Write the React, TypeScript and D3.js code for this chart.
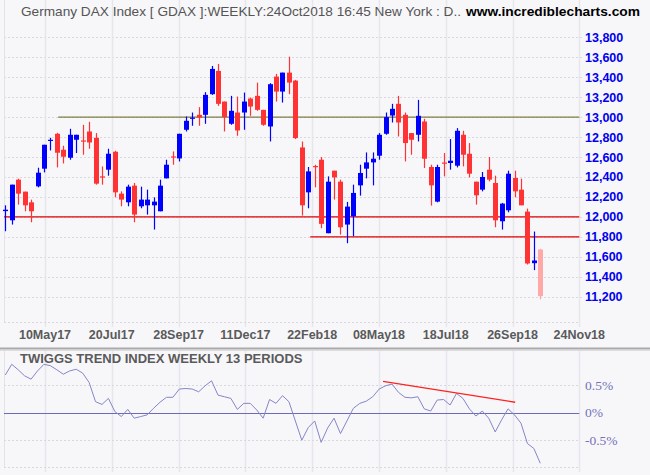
import React from 'react';
import * as d3 from 'd3';

const opens = [12058,11966,12373,12253,12146,12306,12483,12763,12833,12673,12593,12773,12766,12856,12793,12406,12473,12653,12233,12146,12313,12106,12116,12116,12056,12386,12606,12586,12873,12985,13023,13023,13230,13463,13156,12933,13046,13046,13186,13213,13073,12906,13406,13256,13446,13366,12696,12246,12510,12573,11836,12463,12353,11923,12006,12316,12483,12546,12613,12833,13016,13133,13023,12840,12823,12956,12500,12153,12545,12540,12513,12823,12633,12353,12273,12473,12340,11956,12066,12390,12273,12053,11536,11673];
const highs = [12116,12323,12383,12253,12173,12493,12723,12793,12843,12713,12883,12823,12923,12953,12840,12506,12683,12663,12256,12323,12340,12303,12273,12196,12373,12573,12656,12833,13006,13046,13100,13250,13513,13533,13156,13213,13206,13246,13196,13346,13073,13340,13433,13446,13606,13373,12756,12500,12523,12600,12406,12463,12373,12150,12323,12523,12646,12646,12840,13046,13133,13213,13046,12840,13173,12983,12523,12523,12640,12780,12890,12863,12740,12353,12450,12600,12413,12140,12463,12463,12383,12083,11853,11680];
const lows = [11856,11923,12123,12056,11946,12296,12446,12666,12496,12536,12573,12640,12623,12683,12323,12323,12413,12196,12106,12106,11946,12086,12023,11873,12056,12386,12523,12556,12856,12913,12913,12933,13223,13113,12856,12923,12813,12873,13013,13063,12913,12756,13156,13146,13230,12780,12013,12086,12296,11886,11836,12173,11823,11736,11806,12213,12386,12316,12573,12823,12946,12806,12556,12623,12756,12490,12113,12146,12406,12473,12496,12506,12396,12123,12256,12356,11896,11873,12046,12196,12116,11523,11466,11173];
const closes = [12072,12323,12233,12116,12056,12443,12723,12773,12643,12603,12823,12823,12756,12746,12333,12396,12633,12246,12173,12303,12023,12173,12173,12153,12313,12523,12596,12833,12963,12995,12996,13223,13483,13133,13000,13063,12866,13156,13106,13073,12923,13330,13256,13446,13346,12790,12116,12456,12500,11930,12353,12396,11896,12103,12240,12440,12546,12583,12823,13000,13083,12946,12740,12773,13013,12583,12316,12500,12535,12563,12863,12623,12433,12216,12400,12373,11966,12133,12433,12256,12116,11533,11563,11206];
const twiggs = [0.685,0.88,0.78,0.67,0.61,0.76,0.88,0.855,0.78,0.70,0.76,0.79,0.72,0.55,0.20,0.15,0.26,0.02,-0.07,0.06,-0.10,-0.07,-0.04,0.08,0.19,0.28,0.28,0.43,0.44,0.43,0.38,0.49,0.58,0.32,0.29,0.26,0.06,0.17,0.17,0.05,-0.10,0.24,0.17,0.31,0.20,-0.15,-0.50,-0.27,-0.15,-0.54,-0.28,-0.10,-0.38,-0.15,0.08,0.17,0.21,0.29,0.43,0.49,0.52,0.37,0.28,0.27,0.29,0.07,0.03,0.23,0.24,0.14,0.35,0.26,0.07,-0.06,0.03,-0.10,-0.35,-0.13,0.07,-0.04,-0.19,-0.56,-0.65,-0.92];
const priceTicks = [11200,11400,11600,11800,12000,12200,12400,12600,12800,13000,13200,13400,13600,13800];
const dateLabels = ['10May17','20Jul17','28Sep17','11Dec17','22Feb18','08May18','18Jul18','26Sep18','24Nov18'];
const twiggsTicks = [0.5, 0, -0.5];
const twiggsTickLabels = ['0.5%', '0%', '-0.5%'];
const levelValues = [13000, 12000, 11800];
const levelStarts = [8.2, -0.2, 47.3];
const trendIdx = [58.6, 79.1];
const trendVal = [0.57, 0.19];
const titleText = 'Germany DAX Index [ GDAX ]:WEEKLY:24Oct2018 16:45 New York : D..';
const siteText = 'www.incrediblecharts.com';
const panelTitle = 'TWIGGS TREND INDEX WEEKLY 13 PERIODS';

export default function App() {
  const W = 650, H = 475;
  const plotL = 4, plotR = 579.3;
  const n = closes.length;
  const x = d3.scaleLinear().domain([0, n - 1]).range([5.3, 540.3]);
  const y = d3.scaleLinear().domain([11200, 13800]).range([296.7, 37.3]);
  const gx = d3.scalePoint<string>().domain(dateLabels).range([45, 579.3]);
  const yt = d3.scaleLinear().domain([-0.5, 0.5]).range([440.2, 385.2]);
  const fmt = d3.format(',');
  const line = d3.line<number>().x((_, i) => x(i)).y((d) => yt(d));
  const sans = 'Liberation Sans, Arial, Helvetica, sans-serif';
  const levelColors = ['#7f7c40', '#e00000', '#e00000'];

  return (
    <svg width={W} height={H} style={{ position: 'absolute', left: 0, top: 0 }} xmlns="http://www.w3.org/2000/svg">
      <rect x={0} y={0} width={W} height={H} fill="#f7f7fa" />
      {/* top panel grid */}
      {priceTicks.map((t) => (
        <line key={'hg' + t} x1={plotL} x2={584} y1={Math.round(y(t)) + 0.5} y2={Math.round(y(t)) + 0.5} stroke="#d8d8de" strokeDasharray="2,2" />
      ))}
      {dateLabels.map((d) => (
        <line key={'vg' + d} x1={Math.round(gx(d)!) + 0.5} x2={Math.round(gx(d)!) + 0.5} y1={0} y2={327} stroke="#e6e6ec" strokeWidth={1.5} />
      ))}
      <line x1={plotL + 0.5} x2={plotL + 0.5} y1={0} y2={322} stroke="#e2e2e8" />
      <line x1={plotL} x2={plotR} y1={322.5} y2={322.5} stroke="#d8d8de" strokeDasharray="2,2" />
      {/* level lines */}
      {levelValues.map((v, k) => (
        <line key={'lv' + v} x1={Math.max(plotL, x(levelStarts[k]))} x2={plotR} y1={y(v)} y2={y(v)} stroke={levelColors[k]} strokeWidth={1.4} />
      ))}
      {/* candles */}
      {closes.map((c, i) => {
        const o = opens[i];
        const last = i === n - 1;
        const col = last ? '#ffa8a8' : c >= o ? '#0000ff' : '#ff3333';
        const cx = Math.round(x(i));
        const top = y(Math.max(o, c));
        const bot = y(Math.min(o, c));
        return (
          <g key={'c' + i}>
            <line x1={cx + 0.5} x2={cx + 0.5} y1={y(highs[i])} y2={y(lows[i])} stroke={col} strokeWidth={1.2} />
            <rect x={cx - 2} y={top} width={5} height={Math.max(1.2, bot - top)} fill={col} />
          </g>
        );
      })}
      {/* price labels */}
      {priceTicks.map((t) => (
        <text key={'pl' + t} x={585} y={y(t) + 4.5} fontFamily={sans} fontWeight="bold" fontSize={12.5} fill="#0000ee">{fmt(t)}</text>
      ))}
      {/* date labels */}
      {dateLabels.map((d) => (
        <text key={'dl' + d} x={gx(d)!} y={338.5} textAnchor="middle" fontFamily={sans} fontWeight="bold" fontSize={12.5} fill="#5a5a5a">{d}</text>
      ))}
      {/* title */}
      <text x={21} y={16} fontFamily={sans} fontSize={13} fill="#555555" textLength={440} lengthAdjust="spacingAndGlyphs">{titleText}</text>
      <text x={466} y={16} fontFamily={sans} fontWeight="bold" fontSize={13.5} fill="#000000" textLength={174} lengthAdjust="spacingAndGlyphs">{siteText}</text>
      {/* separator */}
      <line x1={0} x2={W} y1={348.5} y2={348.5} stroke="#aaaaaa" strokeWidth={2} />
      <line x1={0} x2={W} y1={350.5} y2={350.5} stroke="#dcdcdc" strokeWidth={1} />
      {/* bottom panel grid */}
      {dateLabels.map((d) => (
        <line key={'vg2' + d} x1={Math.round(gx(d)!) + 0.5} x2={Math.round(gx(d)!) + 0.5} y1={351} y2={472} stroke="#e6e6ec" strokeWidth={1.5} />
      ))}
      <line x1={plotL + 0.5} x2={plotL + 0.5} y1={351} y2={467} stroke="#e2e2e8" />
      <line x1={plotL} x2={plotR} y1={467.5} y2={467.5} stroke="#d8d8de" strokeDasharray="2,2" />
      {twiggsTicks.filter((t) => t !== 0).map((t) => (
        <line key={'tg' + t} x1={plotL} x2={plotR} y1={Math.round(yt(t)) + 0.5} y2={Math.round(yt(t)) + 0.5} stroke="#d8d8de" strokeDasharray="2,2" />
      ))}
      <line x1={plotL} x2={plotR} y1={Math.round(yt(0)) + 0.5} y2={Math.round(yt(0)) + 0.5} stroke="#6b6bb8" strokeWidth={1} />
      <text x={20} y={363} fontFamily={sans} fontWeight="bold" fontSize={13} fill="#5a5a5a">{panelTitle}</text>
      <path d={line(twiggs) || ''} fill="none" stroke="#8585c8" strokeWidth={1} />
      <line x1={x(trendIdx[0])} x2={x(trendIdx[1])} y1={yt(trendVal[0])} y2={yt(trendVal[1])} stroke="#ff2020" strokeWidth={1.3} />
      {twiggsTicks.map((t, k) => (
        <text key={'tl' + t} x={585} y={yt(t) + 4.5} fontFamily="Liberation Serif, Times New Roman, serif" fontSize={13.5} fill="#7272b8">{twiggsTickLabels[k]}</text>
      ))}
    </svg>
  );
}
